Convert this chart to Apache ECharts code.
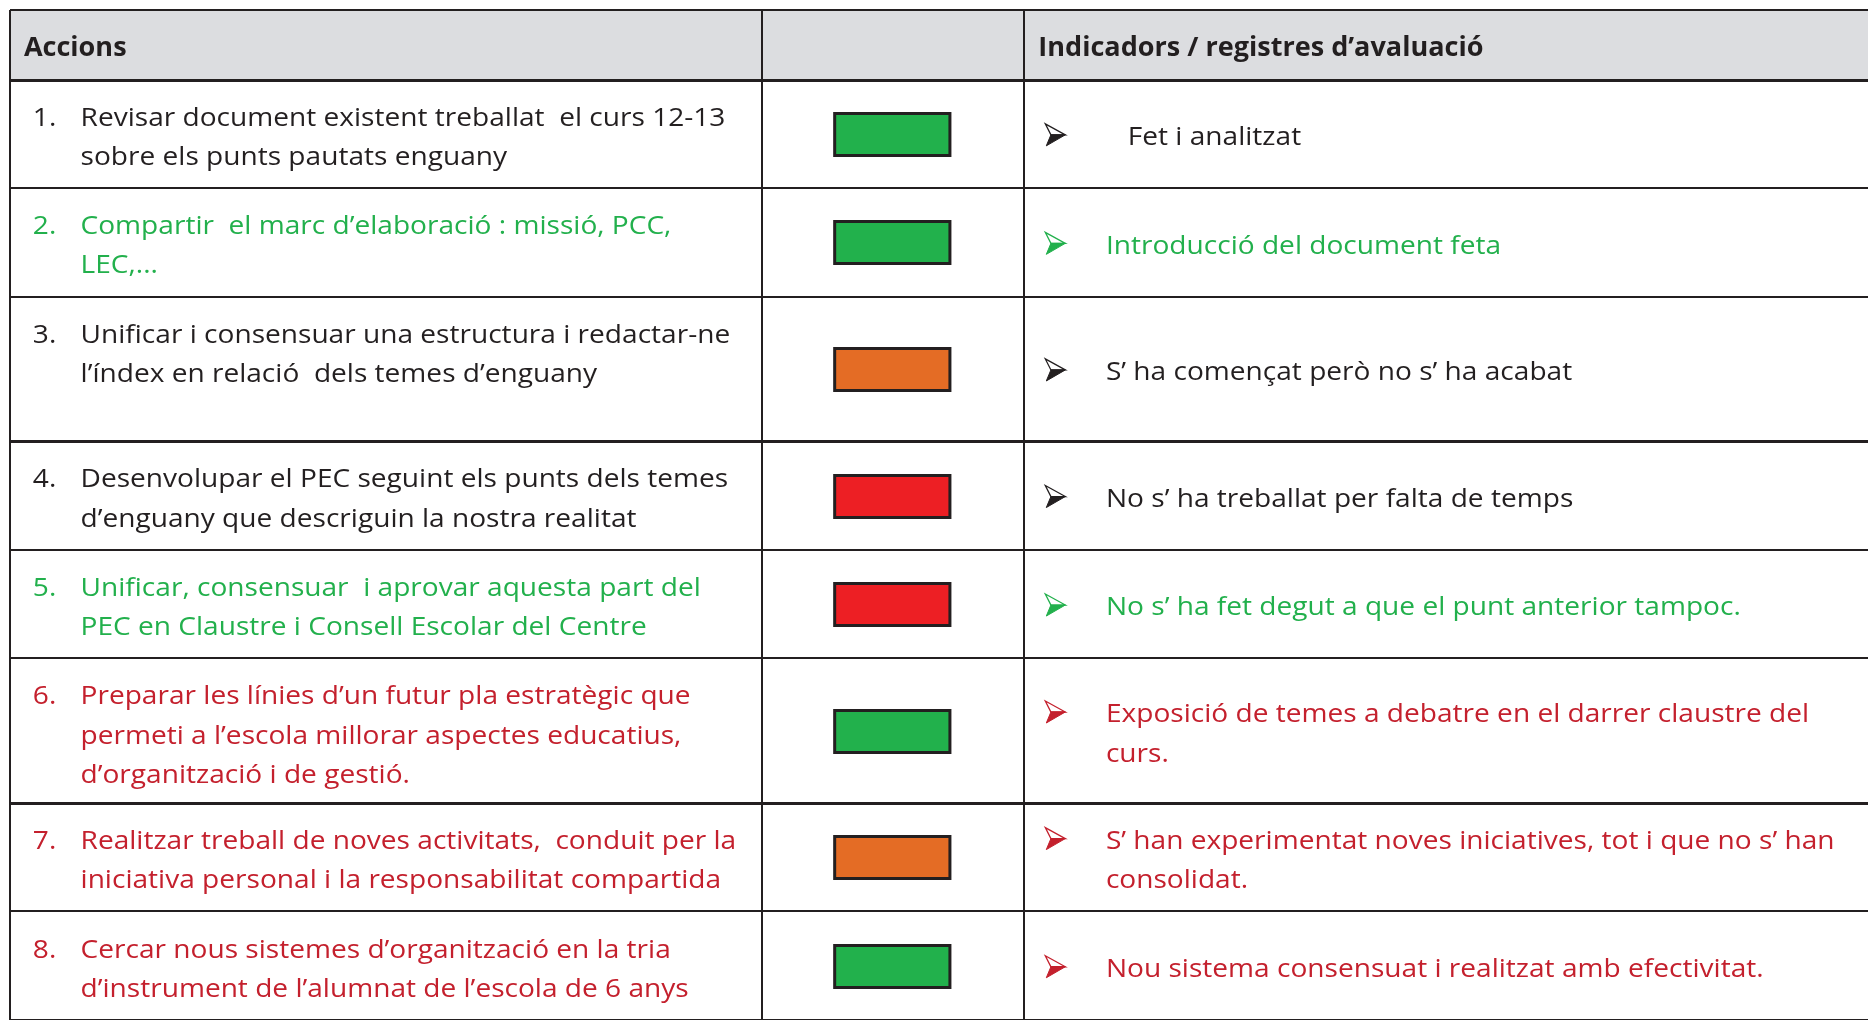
<!DOCTYPE html>
<html>
<head>
<meta charset="utf-8">
<script src="https://cdn.jsdelivr.net/npm/echarts@6/dist/echarts.min.js"></script>
<style>html,body{margin:0;padding:0;background:#fff}#c{width:1868px;height:1020px}</style>
</head>
<body>
<div id="c"></div>
<script>
// ---------------- DATA ----------------
const headers = ['Accions', '', 'Indicadors / registres d’avaluació'];
const actionNumbers = ['1.', '2.', '3.', '4.', '5.', '6.', '7.', '8.'];
const actions = [
  'Revisar document existent treballat  el curs 12-13\nsobre els punts pautats enguany',
  'Compartir  el marc d’elaboració : missió, PCC,\nLEC,...',
  'Unificar i consensuar una estructura i redactar-ne\nl’índex en relació  dels temes d’enguany',
  'Desenvolupar el PEC seguint els punts dels temes\nd’enguany que descriguin la nostra realitat',
  'Unificar, consensuar  i aprovar aquesta part del\nPEC en Claustre i Consell Escolar del Centre',
  'Preparar les línies d’un futur pla estratègic que\npermeti a l’escola millorar aspectes educatius,\nd’organització i de gestió.',
  'Realitzar treball de noves activitats,  conduit per la\niniciativa personal i la responsabilitat compartida',
  'Cercar nous sistemes d’organització en la tria\nd’instrument de l’alumnat de l’escola de 6 anys'
];
const statuses = ['done', 'done', 'partial', 'pending', 'pending', 'done', 'partial', 'done'];
const indicators = [
  '   Fet i analitzat',
  'Introducció del document feta',
  'S’ ha començat però no s’ ha acabat',
  'No s’ ha treballat per falta de temps',
  'No s’ ha fet degut a que el punt anterior tampoc.',
  'Exposició de temes a debatre en el darrer claustre del\ncurs.',
  'S’ han experimentat noves iniciatives, tot i que no s’ han\nconsolidat.',
  'Nou sistema consensuat i realitzat amb efectivitat.'
];
const rowTone = ['black', 'green', 'black', 'black', 'green', 'red', 'red', 'red'];
const rowLines = [2, 2, 3, 2, 2, 3, 2, 2];

// ---------------- STYLE / LAYOUT ----------------
const STATUS_COLORS = { done: '#22b14c', partial: '#e46c25', pending: '#ed1f24' };
const TONES = { black: '#231f20', green: '#22b04c', red: '#c4202d' };
const LINE = '#231f20';
const FONT = '"Open Sans"';
const FS = 26;
const SX = 1.08;
const L = {
  left: 10, top: 10, width: 1870, headerPx: 70, unitPx: 36.39,
  col1: 757, col2: 1021, numX: 23, textX: 71, rectX0: 830, rectX1: 946, rectH: 42,
  arrowX: 1042, arrowW: 20, arrowH: 22, indX: 1103, hdrX1: 14, hdrX3: 1035,
  lineH: 39.3, textTop: 19, indDy: 4, hdrDy: 4
};
const thickAfter = [2, 5];

const headerUnits = L.headerPx / L.unitPx;
let acc = headerUnits;
const rowData = rowLines.map((n, i) => { const s = acc; acc += n + 1; return [i, s, acc]; });
const yMax = acc;

const chart = echarts.init(document.getElementById('c'), null, { renderer: 'canvas' });

function hline(x0, x1, y, w) {
  const yy = (w % 2 === 1) ? Math.round(y) + 0.5 : Math.round(y);
  return { type: 'line', shape: { x1: x0, y1: yy, x2: x1, y2: yy }, style: { stroke: LINE, lineWidth: w } };
}
function vline(x, y0, y1, w) {
  const xx = Math.round(x);
  return { type: 'line', shape: { x1: xx, y1: Math.round(y0), x2: xx, y2: Math.round(y1) }, style: { stroke: LINE, lineWidth: w } };
}
function txt(text, x, y, fill, font, va, sx) {
  return {
    type: 'text', x: x, y: y, scaleX: sx == null ? SX : sx,
    style: { text: text, x: 0, y: 0, fill: fill, font: font, lineHeight: L.lineH, verticalAlign: va, textVerticalAlign: va }
  };
}
// 3D arrowhead bullet: outlined upper half, filled lower half
function arrowBullet(x, cy, color) {
  const w = L.arrowW, h = L.arrowH, t = cy - h / 2;
  const A = [x, t], T = [x + w, cy], B = [x + 1, t + h], N = [x + w * 0.28, cy];
  return [
    { type: 'polygon', shape: { points: [A, T, N] }, style: { fill: '#ffffff', stroke: color, lineWidth: 1.3, lineJoin: 'miter' } },
    { type: 'polygon', shape: { points: [N, T, B] }, style: { fill: color, stroke: color, lineWidth: 1 } }
  ];
}

function renderHeader(params, api) {
  const y0 = api.value(1), y1 = api.value(2);
  const top = api.coord([0, y0])[1], bot = api.coord([0, y1])[1];
  const X = v => api.coord([v, y0])[0];
  const mid = (top + bot) / 2 + L.hdrDy;
  const bf = 'bold ' + FS + 'px ' + FONT;
  const ch = [];
  ch.push({ type: 'rect', shape: { x: X(0), y: top, width: X(L.width) - X(0), height: bot - top }, style: { fill: '#dcdde0' } });
  ch.push(txt(headers[0], X(L.hdrX1), mid, TONES.black, bf, 'middle', 1.04));
  ch.push(txt(headers[2], X(L.hdrX3), mid, TONES.black, bf, 'middle', 1.04));
  ch.push(hline(X(0), X(L.width), top, 2));
  ch.push(hline(X(0), X(L.width), bot, 3));
  [0, L.col1, L.col2].forEach(c => ch.push(vline(X(c), top, bot, 2)));
  return { type: 'group', children: ch };
}

function renderRow(params, api) {
  const i = api.value(0), y0 = api.value(1), y1 = api.value(2);
  const top = api.coord([0, y0])[1], bot = api.coord([0, y1])[1];
  const X = v => api.coord([v, y0])[0];
  const mid = (top + bot) / 2;
  const tone = TONES[rowTone[i]];
  const font = FS + 'px ' + FONT;
  const ch = [];
  ch.push({ type: 'rect', shape: { x: X(L.rectX0), y: Math.round(mid - L.rectH / 2) + 0.5, width: X(L.rectX1) - X(L.rectX0), height: L.rectH }, style: { fill: STATUS_COLORS[statuses[i]], stroke: LINE, lineWidth: 3 } });
  ch.push(txt(actionNumbers[i], X(L.numX), top + L.textTop, tone, font, 'top'));
  ch.push(txt(actions[i], X(L.textX), top + L.textTop, tone, font, 'top'));
  const nInd = indicators[i].split('\n').length;
  const arrowY = mid - (nInd - 1) * L.lineH / 2 + 1;
  arrowBullet(X(L.arrowX), arrowY, tone).forEach(e => ch.push(e));
  ch.push(txt(indicators[i], X(L.indX), mid + L.indDy, tone, font, 'middle'));
  ch.push(hline(X(0), X(L.width), bot, thickAfter.indexOf(i) >= 0 ? 3 : 2));
  [0, L.col1, L.col2].forEach(c => ch.push(vline(X(c), top, bot, 2)));
  return { type: 'group', children: ch };
}

chart.setOption({
  backgroundColor: '#ffffff',
  animation: false,
  grid: { left: L.left, top: L.top, width: L.width, height: yMax * L.unitPx, containLabel: false },
  xAxis: { type: 'value', min: 0, max: L.width, show: false },
  yAxis: { type: 'value', min: 0, max: yMax, inverse: true, show: false },
  series: [
    { type: 'custom', clip: false, renderItem: renderRow, data: rowData, encode: { x: 0, y: 1 } },
    { type: 'custom', clip: false, renderItem: renderHeader, data: [[0, 0, headerUnits]], encode: { x: 0, y: 1 } }
  ]
});
</script>
</body>
</html>
